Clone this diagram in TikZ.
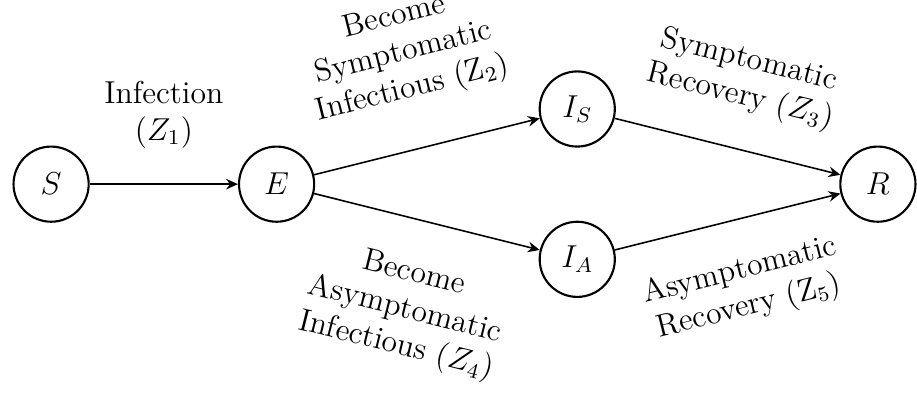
\documentclass[tikz,border=0pt]{standalone}
\usetikzlibrary{arrows.meta}
\begin{document}
\begin{tikzpicture}[font=\large,
  comp/.style={circle, draw, thick, minimum size=1cm},
  flow/.style={-{Stealth[length=4.5pt,width=4pt,inset=1.5pt]}, semithick},
  lbl/.style={midway, sloped, align=center}]
  \useasboundingbox (-0.68,-2.77) rectangle (11.52,2.45);
  % compartments
  \node[comp] (S) at (0,0) {$S$};
  \node[comp] (E) at (3,0) {$E$};
  \node[comp] (IS) at (7,1) {$I_S$};
  \node[comp] (IA) at (7,-1) {$I_A$};
  \node[comp] (R) at (11,0) {$R$};
  % transitions
  \draw[flow] (S) -- (E) node[lbl, above=10pt] {Infection\\($Z_1$)};
  \draw[flow] (E) -- (IS) node[lbl, above=13pt] {Become\\Symptomatic\\Infectious (Z$_2$)};
  \draw[flow] (E) -- (IA) node[lbl, below=11.5pt] {Become\\Asymptomatic\\Infectious ($Z_4$)};
  \draw[flow] (IS) -- (R) node[lbl, above=10pt] {Symptomatic\\Recovery ($Z_3$)};
  \draw[flow] (IA) -- (R) node[lbl, below=10pt] {Asymptomatic\\Recovery (Z$_5$)};
\end{tikzpicture}
\end{document}
